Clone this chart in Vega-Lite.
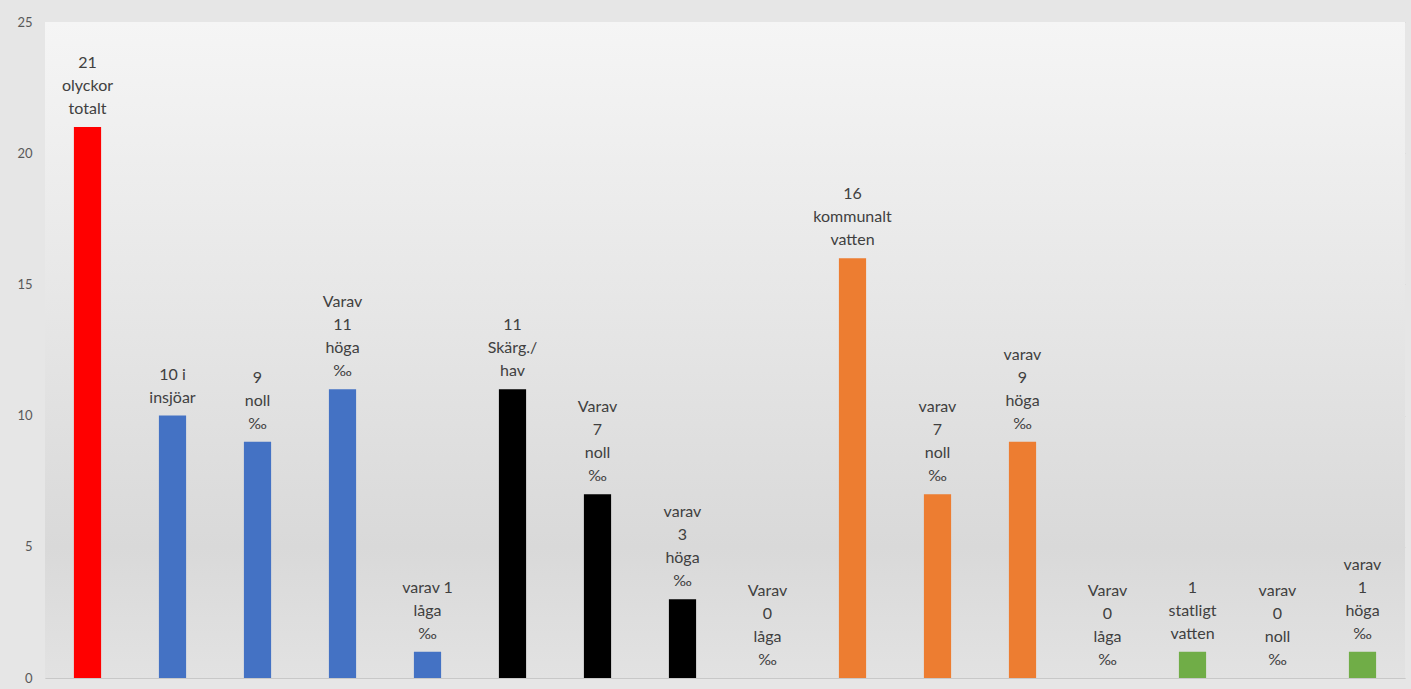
{
  "$schema": "https://vega.github.io/schema/vega-lite/v6.json",
  "autosize": {"type": "none"},
  "padding": {"left": 45, "top": 22, "right": 6, "bottom": 11},
  "width": 1360,
  "height": 656,
  "background": "#e6e6e6",
  "config": {"view": {"stroke": null}, "font": "Lato"},
  "data": {"values": [
    {"id": 1, "value": 21, "group": "totalt", "label": ["21", "olyckor", "totalt"]},
    {"id": 2, "value": 10, "group": "insjöar", "label": ["10 i", "insjöar"]},
    {"id": 3, "value": 9, "group": "insjöar", "label": ["9", "noll", "‰"]},
    {"id": 4, "value": 11, "group": "insjöar", "label": ["Varav", "11", "höga", "‰"]},
    {"id": 5, "value": 1, "group": "insjöar", "label": ["varav 1", "låga", "‰"]},
    {"id": 6, "value": 11, "group": "hav", "label": ["11", "Skärg./", "hav"]},
    {"id": 7, "value": 7, "group": "hav", "label": ["Varav", "7", "noll", "‰"]},
    {"id": 8, "value": 3, "group": "hav", "label": ["varav", "3", "höga", "‰"]},
    {"id": 9, "value": 0, "group": "hav", "label": ["Varav", "0", "låga", "‰"]},
    {"id": 10, "value": 16, "group": "kommunalt", "label": ["16", "kommunalt", "vatten"]},
    {"id": 11, "value": 7, "group": "kommunalt", "label": ["varav", "7", "noll", "‰"]},
    {"id": 12, "value": 9, "group": "kommunalt", "label": ["varav", "9", "höga", "‰"]},
    {"id": 13, "value": 0, "group": "kommunalt", "label": ["Varav", "0", "låga", "‰"]},
    {"id": 14, "value": 1, "group": "statligt", "label": ["1", "statligt", "vatten"]},
    {"id": 15, "value": 0, "group": "statligt", "label": ["varav", "0", "noll", "‰"]},
    {"id": 16, "value": 1, "group": "statligt", "label": ["varav", "1", "höga", "‰"]}
  ]},
  "encoding": {
    "x": {
      "field": "id", "type": "ordinal",
      "scale": {"paddingInner": 0.68, "paddingOuter": 0.34},
      "axis": {"labels": false, "ticks": false, "title": null, "domain": true, "domainColor": "#c8c8c8", "domainWidth": 1, "grid": false}
    },
    "y": {
      "field": "value", "type": "quantitative",
      "scale": {"domain": [0, 25], "nice": false},
      "axis": {"values": [0, 5, 10, 15, 20, 25], "title": null, "domain": false, "ticks": false, "labelPadding": 13, "labelColor": "#595959", "labelFontSize": 13, "labelFont": "Lato", "gridColor": "#d4d4d4", "gridWidth": 1}
    }
  },
  "layer": [
    {
      "data": {"values": [{}]},
      "mark": {"type": "rect", "color": {"gradient": "linear", "x1": 0, "y1": 0, "x2": 0, "y2": 1, "stops": [
        {"offset": 0, "color": "#f5f5f5"},
        {"offset": 0.45, "color": "#e6e6e6"},
        {"offset": 0.8, "color": "#d9d9d9"},
        {"offset": 1, "color": "#e2e2e2"}
      ]}},
      "encoding": {"x": null, "y": null}
    },
    {
      "mark": {"type": "bar"},
      "encoding": {
        "color": {
          "field": "group", "type": "nominal", "legend": null,
          "scale": {"domain": ["totalt", "insjöar", "hav", "kommunalt", "statligt"], "range": ["#ff0000", "#4472c4", "#000000", "#ed7d31", "#70ad47"]}
        }
      }
    },
    {
      "mark": {"type": "text", "baseline": "bottom", "align": "center", "dy": {"expr": "-10 - (length(datum.label) - 1) * 23"}, "lineHeight": 23, "fontSize": 16, "font": "Lato", "color": "#404040"},
      "encoding": {"text": {"field": "label"}}
    }
  ]
}
